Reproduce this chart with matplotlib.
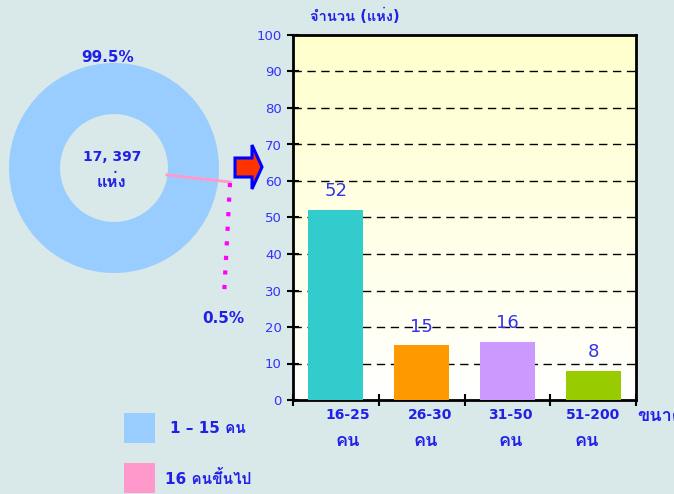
import matplotlib
matplotlib.use("Agg")
import matplotlib.pyplot as plt
from matplotlib.patches import Polygon, Rectangle
from matplotlib.transforms import blended_transform_factory
import numpy as np

plt.rcParams['font.family'] = ['DejaVu Sans', 'Loma']

# data
sizes = ["16-25", "26-30", "31-50", "51-200"]
unit = "คน"
counts = [52, 15, 16, 8]
bar_colors = ["#33cccc", "#ff9900", "#cc99ff", "#99cc00"]

pie_labels = ["1 – 15 คน", "16 คนขึ้นไป"]
pie_share = [99.5, 0.5]
pie_colors = ["#99ccff", "#ff99cc"]
total_num = "17, 397"
total_unit = "แห่ง"

blue = "#2020e8"
W, H = 674, 494
bg = "#d9e8e8"

fig = plt.figure(figsize=(W / 100, H / 100), dpi=100, facecolor=bg)


def box(x0, y0, x1, y1):
    # pixel box -> figure fraction
    return [x0 / W, 1 - y1 / H, (x1 - x0) / W, (y1 - y0) / H]


# ---- bar chart ----
ax = fig.add_axes(box(293, 35, 636, 400))
grad = np.linspace(0, 1, 256).reshape(-1, 1)
ax.imshow(grad, extent=[0, 4, 0, 100], aspect="auto", zorder=0,
          cmap=matplotlib.colors.LinearSegmentedColormap.from_list("g", ["#ffffcc", "#ffffff"]))
xs = np.arange(len(counts)) + 0.5
bars = ax.bar(xs, counts, width=0.64, color=bar_colors, zorder=3)
for x, v in zip(xs, counts):
    ax.annotate(str(v), (x, v), xytext=(0, 7), textcoords="offset points",
                ha="center", va="bottom", fontsize=13, color="#3333ee")
ax.set_xlim(0, 4)
ax.set_ylim(0, 100)
ax.set_yticks(range(0, 101, 10))
for y in range(10, 100, 10):
    ax.axhline(y, color="black", lw=1, ls=(0, (6, 4)), zorder=1)
ax.set_xticks(range(5))
ax.set_xticklabels([])

# category labels sit a little right of the bars, like the original
shift = np.array([0.14, 0.1, 0.04, 0.0])
lab_x = xs + shift
ax.set_xticks(lab_x, minor=True)
ax.set_xticklabels(sizes, minor=True, color=blue, fontsize=10, fontweight="bold")
ax.tick_params(axis="x", which="minor", length=0, pad=6)
ax.tick_params(axis="x", which="major", direction="inout", length=8, width=1.5)
ax.tick_params(axis="y", direction="inout", length=8, width=1.5, labelsize=9.5, labelcolor="#3333ff", pad=4)
tr = blended_transform_factory(ax.transData, ax.transAxes)
for x in lab_x - np.array([0.0, 0.05, 0.0, 0.08]):
    ax.text(x, -0.113, unit, transform=tr, ha="center", va="center",
            fontsize=13, fontweight="bold", color=blue, family="Loma")
for s in ax.spines.values():
    s.set_linewidth(2)

# ---- donut ----
pax = fig.add_axes(box(9, 63, 219, 273))
# small slice first so it sits just below the horizontal on the right
pax.pie(pie_share[::-1], colors=pie_colors[::-1], startangle=-7.9,
        wedgeprops=dict(width=0.486, linewidth=0))
pax.set_xlim(-1, 1)
pax.set_ylim(-1, 1)
pax.axis("off")

# ---- overlay for labels and decorations ----
ov = fig.add_axes([0, 0, 1, 1], facecolor="none")
ov.set_xlim(0, W)
ov.set_ylim(H, 0)
ov.axis("off")

ov.text(310, 16, "จำนวน (แห่ง)", fontsize=10.5, fontweight="bold", color=blue, va="center")
ov.text(637, 416, "ขนาด", fontsize=13, fontweight="bold", color=blue, va="center", family="Loma")

ov.text(108, 57, f"{pie_share[0]}%", fontsize=11, fontweight="bold", color=blue, ha="center", va="center")
ov.text(223, 318, f"{pie_share[1]}%", fontsize=11, fontweight="bold", color=blue, ha="center", va="center")
ov.text(112, 157, total_num, fontsize=10, fontweight="bold", color=blue, ha="center", va="center")
ov.text(111, 182, total_unit, fontsize=12, fontweight="bold", color=blue, ha="center", va="center",
        family="Loma")
ov.plot([167, 230], [175, 182], color=pie_colors[1], lw=2)
ov.plot([230, 224], [183, 296], color="#ff00ff", lw=3, ls=(0, (1, 2.5)))

arrow = Polygon([(235, 158), (252, 158), (252, 145), (262, 167), (252, 189), (252, 177), (235, 177)],
                closed=True, facecolor="#ff3300", edgecolor="#0000ff", lw=2.2)
ov.add_patch(arrow)

for i, (lab, c) in enumerate(zip(pie_labels, pie_colors)):
    y0 = 413 + i * 50
    ov.add_patch(Rectangle((124, y0), 31, 30, facecolor=c, edgecolor="none"))
    ov.text(170 - i * 5, y0 + 15, lab, fontsize=11, fontweight="bold", color=blue, va="center")

fig.savefig("out.png", dpi=100, facecolor=bg)
